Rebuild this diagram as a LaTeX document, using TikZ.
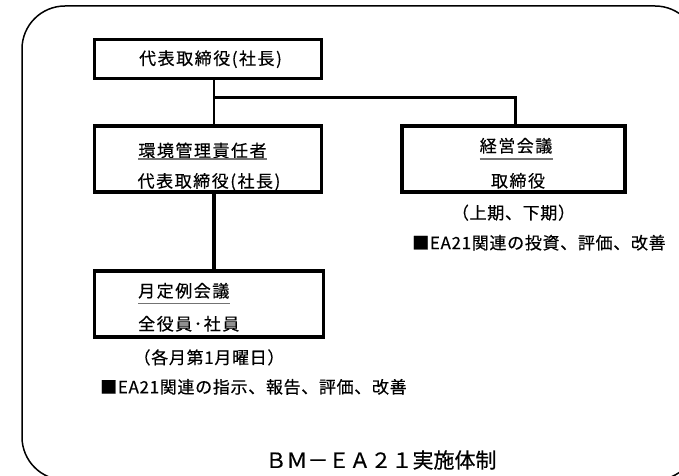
\documentclass[tikz,border=0pt]{standalone}
\usepackage{fontspec}
\setmainfont[FakeBold=0.4]{Noto Sans CJK JP}
\newfontfamily\boxfont[LetterSpace=9,FakeBold=0.4]{Noto Sans CJK JP}
\newfontfamily\notefont[LetterSpace=4,FakeBold=0.4]{Noto Sans CJK JP}
\usetikzlibrary{positioning}

\begin{document}
\begin{tikzpicture}[x=1pt,y=1pt,
  org box/.style={draw,line width=3.5pt,outer sep=0pt,inner sep=0pt,minimum height=66pt,
    font=\boxfont\fontsize{17}{20}\selectfont},
  box text/.style={inner sep=0pt,font=\boxfont\fontsize{17}{20}\selectfont,text height=14.1pt,text depth=1.2pt},
  note text/.style={inner sep=0pt,font=\notefont\fontsize{17}{20}\selectfont,text height=14.1pt,text depth=1.2pt},
  title text/.style={inner sep=0pt,font=\fontsize{21}{24}\selectfont,text height=17.4pt,text depth=1.5pt},
  under/.style={draw=black!55,line width=1.2pt}]
  \useasboundingbox (0,0) rectangle (679,475);
  \clip (0,0) rectangle (679,475);
  \draw[line width=1.5pt,rounded corners=43pt] (22,-5) rectangle (698,469);

  \node[org box,minimum width=227pt,minimum height=39pt] (ceo) at (208,415.75) {\hspace{5pt}代表取締役(社長)};
  \node[org box,minimum width=227pt,below=47.2pt of ceo] (mgr) {};
  \node[org box,minimum width=223pt,right=80.5pt of mgr] (mtg) {};
  \node[org box,minimum width=229pt,below=78.8pt of mgr.south west,anchor=north west] (month) {};

  % box contents
  \node[box text] (mgrhead) at ([shift={(-5.5,8.45)}]mgr.center) {環境管理責任者};
  \node[box text] (mgrname) at ([shift={(1,-22)}]mgr.center) {代表取締役(社長)};
  \node[box text] (mtghead) at ([shift={(2.5,13.2)}]mtg.center) {経営会議};
  \node[box text] (mtgname) at ([shift={(4.5,-21.9)}]mtg.center) {取締役};
  \node[box text,anchor=west] (monthhead) at ([shift={(43.5,13)}]month.west) {月定例会議};
  \node[box text,anchor=west] (monthname) at ([shift={(43.5,-20)}]month.west) {全役員･社員};

  \draw[under] (mgrhead.west |- mgr.center) -- (mgrhead.east |- mgr.center);
  \draw[under] (mtghead.west |- mtg.center) -- (mtghead.east |- mtg.center);
  \draw[under] (monthhead.west |- month.center) -- (monthhead.east |- month.center);

  % notes
  \node[note text,below=12.9pt of mtg] (mtgwhen) {（上期、下期）};
  \node[note text,anchor=north west] (mtgtask) at ([shift={(10,-42.9)}]mtg.south west) {■EA21関連の投資、評価、改善};
  \node[note text,below=12.8pt of month] (monthwhen) {（各月第1月曜日）};
  \node[note text,anchor=north west] (monthtask) at ([shift={(5.5,-42.25)}]month.south west) {■EA21関連の指示、報告、評価、改善};
  \node[title text] (title) at (381,15) {ＢＭ－ＥＡ２１実施体制};

  % connectors
  \coordinate (split) at ([xshift=5.5pt,yshift=-18.5pt]ceo.south);
  \draw[line width=2pt] ([xshift=5.5pt]ceo.south) -- ([xshift=5.5pt]mgr.north);
  \draw[line width=3pt] (split) -| ([xshift=1.5pt]mtg.north);
  \draw[line width=3.5pt] ([xshift=6pt]mgr.south) -- ([xshift=6pt]mgr.south |- month.north);
\end{tikzpicture}
\end{document}
